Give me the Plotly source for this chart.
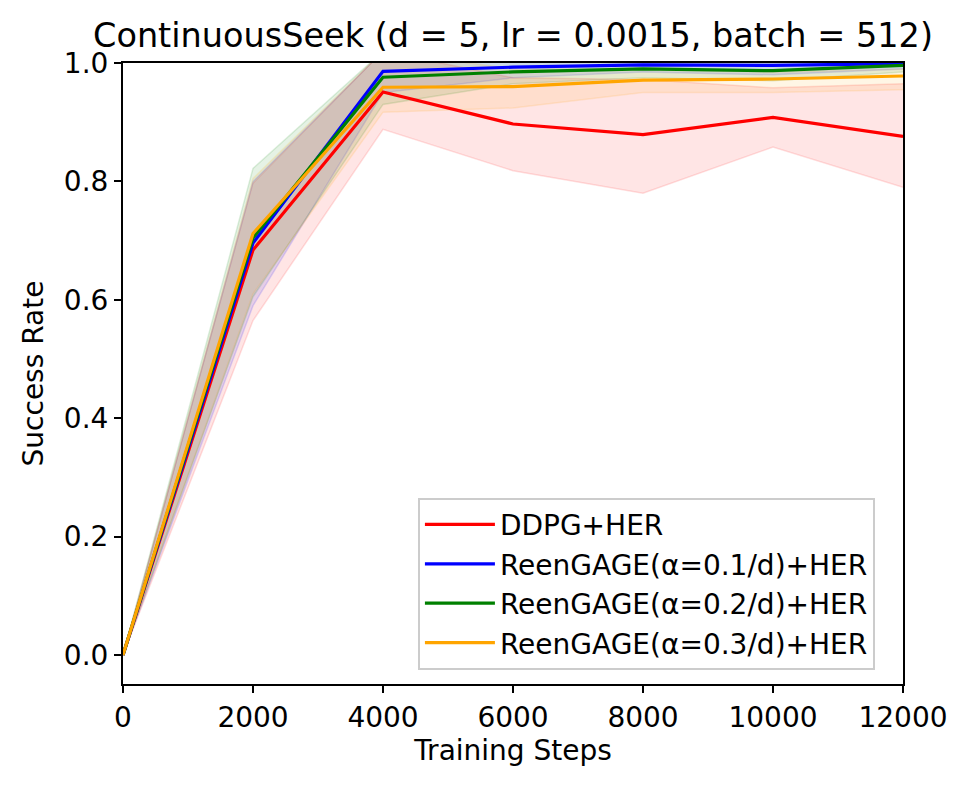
import plotly.graph_objects as go

steps = [0, 2000, 4000, 6000, 8000, 10000, 12000]

names = ["DDPG+HER", "ReenGAGE(α=0.1/d)+HER", "ReenGAGE(α=0.2/d)+HER", "ReenGAGE(α=0.3/d)+HER"]
colors = ["255,0,0", "0,0,255", "0,128,0", "255,165,0"]

ddpg_mean = [0.0, 0.684, 0.951, 0.897, 0.879, 0.908, 0.876]
ddpg_low = [0.0, 0.565, 0.888, 0.818, 0.780, 0.858, 0.790]
ddpg_high = [0.0, 0.797, 1.02, 0.975, 0.972, 0.958, 0.965]

r1_mean = [0.0, 0.696, 0.986, 0.993, 0.997, 0.996, 0.999]
r1_low = [0.0, 0.590, 0.950, 0.975, 0.985, 0.980, 0.990]
r1_high = [0.0, 0.800, 1.02, 1.01, 1.01, 1.01, 1.01]

r2_mean = [0.0, 0.705, 0.976, 0.985, 0.990, 0.987, 0.996]
r2_low = [0.0, 0.605, 0.930, 0.965, 0.975, 0.970, 0.985]
r2_high = [0.0, 0.822, 1.02, 1.01, 1.01, 1.01, 1.01]

r3_mean = [0.0, 0.712, 0.959, 0.960, 0.971, 0.973, 0.978]
r3_low = [0.0, 0.610, 0.917, 0.924, 0.950, 0.950, 0.955]
r3_high = [0.0, 0.805, 1.02, 0.990, 0.990, 0.985, 0.990]

means = [ddpg_mean, r1_mean, r2_mean, r3_mean]
lows = [ddpg_low, r1_low, r2_low, r3_low]
highs = [ddpg_high, r1_high, r2_high, r3_high]

FONT = "DejaVu Sans"

fig = go.Figure()

for name, c, lo, hi in zip(names, colors, lows, highs):
    fig.add_trace(go.Scatter(x=steps, y=lo, mode="lines",
                             line=dict(color=f"rgba({c},0.13)", width=1.5),
                             showlegend=False, hoverinfo="skip"))
    fig.add_trace(go.Scatter(x=steps, y=hi, mode="lines", fill="tonexty",
                             fillcolor=f"rgba({c},0.1)",
                             line=dict(color=f"rgba({c},0.13)", width=1.5),
                             showlegend=False, hoverinfo="skip"))

for name, c, m in zip(names, colors, means):
    fig.add_trace(go.Scatter(x=steps, y=m, mode="lines", name=name,
                             line=dict(color=f"rgb({c})", width=3.2)))

axis_common = dict(showline=True, linecolor="black", linewidth=2, mirror=True,
                   ticks="outside", ticklen=7, tickwidth=2, tickcolor="black",
                   showgrid=False, zeroline=False,
                   tickfont=dict(family=FONT, size=28, color="black"))

fig.update_layout(
    width=968, height=789,
    margin=dict(l=115, r=73, t=55, b=113),
    paper_bgcolor="white", plot_bgcolor="white",
    title=dict(text="ContinuousSeek (d = 5, lr = 0.0015, batch = 512)",
               font=dict(family=FONT, size=33.5, color="black"),
               x=0.5, xanchor="center", xref="paper", y=0.965, yanchor="middle"),
    xaxis=dict(range=[0, 12000], tickvals=[0, 2000, 4000, 6000, 8000, 10000, 12000],
               ticktext=["0", "2000", "4000", "6000", "8000", "10000", "12000"],
               title=dict(text="Training Steps", font=dict(family=FONT, size=28, color="black"), standoff=6),
               **axis_common),
    yaxis=dict(range=[-0.049, 1.0], tickvals=[0, 0.2, 0.4, 0.6, 0.8, 1.0],
               ticktext=["0.0", "0.2", "0.4", "0.6", "0.8", "1.0"],
               title=dict(text="Success Rate", font=dict(family=FONT, size=28, color="black"), standoff=12),
               **axis_common),
    legend=dict(x=0.964, y=0.023, xanchor="right", yanchor="bottom",
                traceorder="normal", itemwidth=70,
                bgcolor="rgba(255,255,255,0.8)", bordercolor="#cccccc", borderwidth=2,
                font=dict(family=FONT, size=28, color="black")),
)

fig.write_html("out.html")
